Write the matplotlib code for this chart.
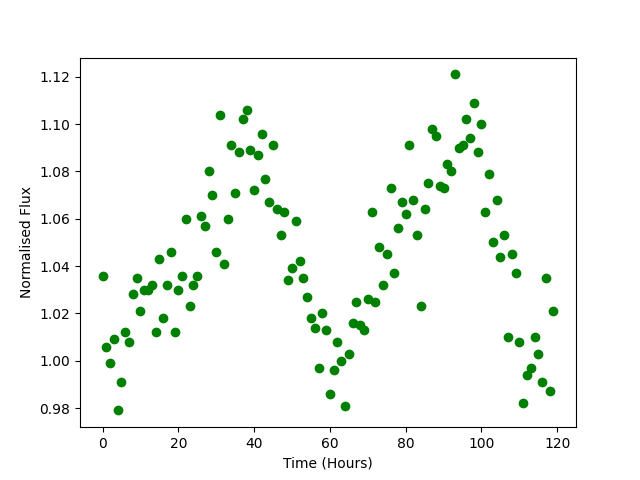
import numpy as np
import matplotlib
matplotlib.use("Agg")
import matplotlib.pyplot as plt

hours = np.arange(120)
flux = [1.036, 1.006, 0.999, 1.009, 0.979, 0.991, 1.012, 1.008, 1.028, 1.035,
        1.021, 1.030, 1.030, 1.032, 1.012, 1.043, 1.018, 1.032, 1.046, 1.012,
        1.030, 1.036, 1.060, 1.023, 1.032, 1.036, 1.061, 1.057, 1.080, 1.070,
        1.046, 1.104, 1.041, 1.060, 1.091, 1.071, 1.088, 1.102, 1.106, 1.089,
        1.072, 1.087, 1.096, 1.077, 1.067, 1.091, 1.064, 1.053, 1.063, 1.034,
        1.039, 1.059, 1.042, 1.035, 1.027, 1.018, 1.014, 0.997, 1.020, 1.013,
        0.986, 0.996, 1.008, 1.000, 0.981, 1.003, 1.016, 1.025, 1.015, 1.013,
        1.026, 1.063, 1.025, 1.048, 1.032, 1.045, 1.073, 1.037, 1.056, 1.067,
        1.062, 1.091, 1.068, 1.053, 1.023, 1.064, 1.075, 1.098, 1.095, 1.074,
        1.073, 1.083, 1.080, 1.121, 1.090, 1.091, 1.102, 1.094, 1.109, 1.088,
        1.100, 1.063, 1.079, 1.050, 1.068, 1.044, 1.053, 1.010, 1.045, 1.037,
        1.008, 0.982, 0.994, 0.997, 1.010, 1.003, 0.991, 1.035, 0.987, 1.021]

plt.figure()
plt.plot(hours, flux, 'go')
plt.xlabel("Time (Hours)")
plt.ylabel("Normalised Flux")
plt.savefig("out.png")
